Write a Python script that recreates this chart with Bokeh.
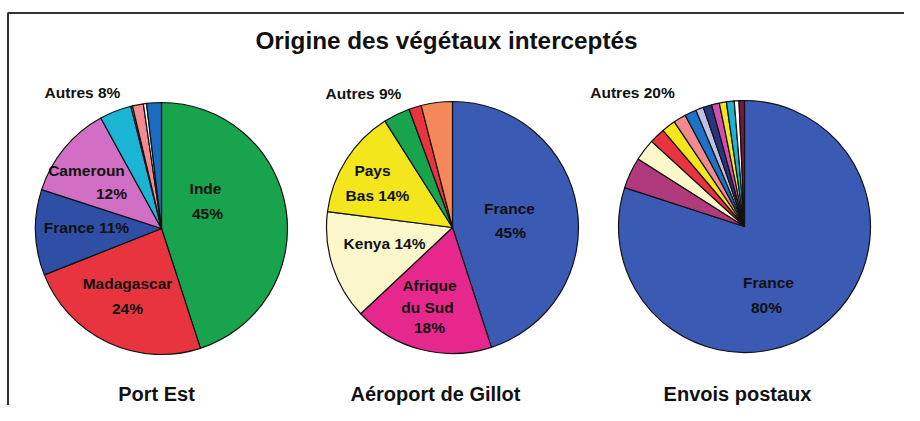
import math
from bokeh.plotting import figure
from bokeh.models import ColumnDataSource, Range1d
from bokeh.core.properties import value
from bokeh.embed import file_html
from bokeh.resources import INLINE

# ---------------- data ----------------
title = "Origine des végétaux interceptés"

port_names = ["Inde", "Madagascar", "France", "Cameroun", "Autre 1", "Autre 2", "Autre 3", "Autre 4", "Autre 5"]
port_values = [45, 24, 11, 12, 4.1, 0.2, 1.4, 0.4, 1.9]
port_colors = ["#17a44c", "#e8343f", "#2f4fa6", "#d06fc3", "#1ab4d4", "#ffffff", "#f28a8f", "#ffffff", "#1b6bbf"]

aero_names = ["France", "Afrique du Sud", "Kenya", "Pays Bas", "Autre 1", "Autre 2", "Autre 3"]
aero_values = [45, 18, 14, 14, 3.4, 1.6, 4.0]
aero_colors = ["#3b5ab4", "#e6288c", "#fcf7cb", "#f3e61c", "#17a44c", "#e8343f", "#f5885a"]

post_names = ["France"] + ["Autre %d" % i for i in range(1, 14)]
post_values = [80, 4.0, 2.8, 2.0, 1.8, 1.6, 1.5, 1.0, 1.1, 1.0, 0.9, 1.0, 0.6, 0.7]
post_colors = ["#3b5ab4", "#b03a7c", "#fcf7cb", "#e8343f", "#f3e61c", "#f28a8f", "#1b74c8",
               "#c0c0e2", "#2a357e", "#cf4fb2", "#f3e61c", "#1ab4d4", "#ffffff", "#7a1742"]

subtitles = ["Port Est", "Aéroport de Gillot", "Envois postaux"]

port_labels = ["Autres 8%", "Cameroun", "12%", "France 11%", "Inde", "45%", "Madagascar", "24%"]
aero_labels = ["Autres 9%", "Pays", "Bas 14%", "Kenya 14%", "Afrique", "du Sud", "18%", "France", "45%"]
post_labels = ["Autres 20%", "France", "80%"]

# ---------------- layout (reference pixel coords) ----------------
W, H = 904, 405
centers = [(161, 228), (452, 227), (744, 226)]
R = 126

port_lab_xy = [(82, 92), (86, 170), (111, 193), (86, 227), (205, 188), (207, 213), (127, 283), (127, 308)]
aero_lab_xy = [(363, 93), (372, 170), (377, 195), (384, 243), (429, 285), (427, 307), (429, 327), (509, 208), (510, 232)]
post_lab_xy = [(632, 92), (768, 282), (766, 307)]
sub_xy = [(156, 393), (435, 393), (737, 393)]


def Y(y):
    return 421 - y


def X(x):
    return x


p = figure(width=W, height=H, output_backend="svg", toolbar_location=None,
           x_range=Range1d(0, W), y_range=Range1d(421 - H, 421),
           min_border=0, min_border_left=0, min_border_right=0,
           min_border_top=0, min_border_bottom=0)
p.axis.visible = False
p.grid.visible = False
p.outline_line_color = None
p.background_fill_color = "white"
p.border_fill_color = "white"

# frame
p.line(x=[7.5, 7.5, W], y=[Y(421), Y(12.5), Y(12.5)], line_color="#333333", line_width=2)

# pies
for (cx, cy), vals, cols in zip(centers, [port_values, aero_values, post_values],
                                [port_colors, aero_colors, post_colors]):
    total = sum(vals)
    starts, ends = [], []
    cum = 0.0
    for v in vals:
        a_end = math.radians(90 - cum / total * 360)
        cum += v
        a_start = math.radians(90 - cum / total * 360)
        starts.append(a_start)
        ends.append(a_end)
    src = ColumnDataSource(dict(start=starts, end=ends, color=cols))
    p.wedge(x=X(cx), y=Y(cy), radius=R, radius_units="data", start_angle="start", end_angle="end",
            fill_color="color", line_color="#111111", line_width=1.2, source=src)

font = value("Liberation Sans")


def add_labels(labels, xy, size):
    src = ColumnDataSource(dict(x=[X(a) for a, b in xy], y=[Y(b) for a, b in xy], t=labels))
    p.text(x="x", y="y", text="t", source=src, text_font=font, text_font_style="bold",
           text_font_size=size, text_align="center", text_baseline="middle", text_color="#111111")


add_labels(port_labels, port_lab_xy, "15.5px")
add_labels(aero_labels, aero_lab_xy, "15.5px")
add_labels(post_labels, post_lab_xy, "15.5px")
add_labels(subtitles, sub_xy, "20px")
add_labels([title], [(446, 40)], "24.3px")

open("out.html", "w").write(file_html(p, INLINE))
